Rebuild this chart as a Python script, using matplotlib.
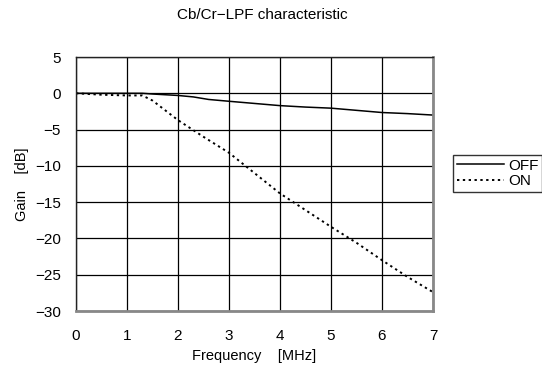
import matplotlib
matplotlib.use("Agg")
import matplotlib.pyplot as plt
from matplotlib.lines import Line2D

plt.rcParams['font.family'] = ['Liberation Sans', 'DejaVu Sans']
plt.rcParams['axes.unicode_minus'] = True

# Frequency response of the chroma low-pass filter
freq_off = [0, 0.5, 1.0, 1.3, 1.5, 2.0, 2.3, 2.6, 3.0, 3.5, 4.0, 4.5, 5.0, 5.5, 6.0, 6.5, 7.0]
gain_off = [0, 0, 0, 0, -0.1, -0.3, -0.5, -0.85, -1.1, -1.4, -1.7, -1.9, -2.05, -2.35, -2.65, -2.8, -3.0]

freq_on = [0, 0.5, 1.0, 1.3, 1.5, 2.0, 2.5, 3.0, 3.5, 4.0, 4.5, 5.0, 5.5, 6.0, 6.5, 7.0]
gain_on = [0, -0.2, -0.3, -0.3, -1.0, -3.7, -6.0, -8.2, -11.0, -13.8, -16.1, -18.4, -20.6, -23.0, -25.3, -27.4]

x_ticks = [0, 1, 2, 3, 4, 5, 6, 7]
y_ticks = [5, 0, -5, -10, -15, -20, -25, -30]

W, H = 542, 374
fig = plt.figure(figsize=(W / 100, H / 100), dpi=100)
ax = fig.add_axes([76 / W, 1 - 311 / H, (433 - 76) / W, (311 - 57) / H])

ax.plot(freq_off, gain_off, color='black', linewidth=1.1, label='OFF')
ax.plot(freq_on, gain_on, color='black', linewidth=1.4, linestyle=(0, (1.2, 1.8)), label='ON')

ax.set_xlim(0, 7)
ax.set_ylim(-30, 5)
ax.set_xticks(x_ticks)
ax.set_yticks(y_ticks)
ax.set_yticklabels([f"{v}".replace('-', '\u2212') for v in y_ticks])
ax.grid(True, color='black', linewidth=0.9)
ax.tick_params(length=0, labelsize=11)
ax.tick_params(axis='x', pad=13)
ax.tick_params(axis='y', pad=11)

for side in ('top', 'left'):
    ax.spines[side].set_color('#222222')
    ax.spines[side].set_linewidth(1.0)
for side in ('right', 'bottom'):
    ax.spines[side].set_color('#888888')
    ax.spines[side].set_linewidth(2.0)

ax.set_xlabel('Frequency    [MHz]', fontsize=10.5, labelpad=4)
ax.set_ylabel('Gain    [dB]', fontsize=10.5, labelpad=4)

fig.text(262 / W, 1 - 15 / H, 'Cb/Cr\u2212LPF characteristic', ha='center', va='center', fontsize=11)

handles = [Line2D([], [], color='black', linewidth=1.1),
           Line2D([], [], color='black', linewidth=1.4, linestyle=(0, (1.2, 1.8)))]
leg = fig.legend(handles, ['OFF', 'ON'], loc='upper left',
                 bbox_to_anchor=(453 / W, 1 - 155 / H), frameon=True, fancybox=False,
                 fontsize=11, handlelength=3.1, handletextpad=0.25, borderpad=0.25,
                 labelspacing=0.1, borderaxespad=0)
leg.get_frame().set_edgecolor('black')
leg.get_frame().set_linewidth(1.0)

fig.savefig('out.png', dpi=100)
